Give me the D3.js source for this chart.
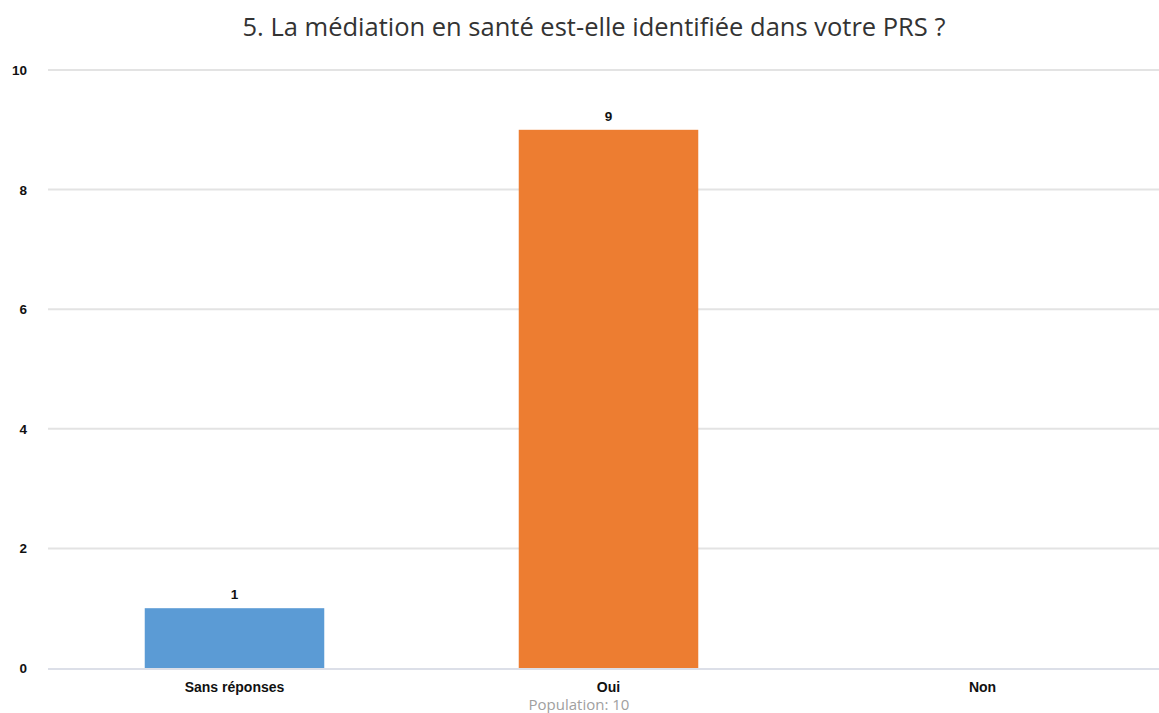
<!DOCTYPE html>
<html>
<head>
<meta charset="utf-8">
<script src="https://cdn.jsdelivr.net/npm/d3@7"></script>
<style>
  body { margin: 0; background: #fff; }
</style>
</head>
<body>
<script>
  const categories = ["Sans réponses", "Oui", "Non"];
  const values = [1, 9, 0];
  const colors = ["#5b9bd5", "#ed7d31", "#a5a5a5"];
  const yTicks = [0, 2, 4, 6, 8, 10];

  const w = 1159, h = 713;
  const plotLeft = 48, plotRight = 1159, plotTop = 70, plotBottom = 668;
  const labelFont = "'Liberation Sans', Arial, sans-serif";

  const svg = d3.select("body").append("svg")
    .attr("width", w).attr("height", h)
    .style("font-family", labelFont);

  const x = d3.scaleBand().domain(categories).range([47.5, 1169.5]).padding(0);
  const y = d3.scaleLinear().domain([0, 10]).range([plotBottom, plotTop]);
  const barW = x.bandwidth() * 0.48;

  const rows = categories.map((c, i) => ({ cat: c, val: values[i], color: colors[i] }));

  // gridlines
  svg.append("g").selectAll("line")
    .data(yTicks.filter(d => d > 0))
    .join("line")
    .attr("x1", plotLeft).attr("x2", plotRight)
    .attr("y1", d => y(d)).attr("y2", d => y(d))
    .attr("stroke", "#e3e3e3").attr("stroke-width", 2);

  // y tick labels
  svg.append("g").selectAll("text")
    .data(yTicks)
    .join("text")
    .attr("x", 27).attr("y", d => y(d) + 5)
    .attr("text-anchor", "end")
    .attr("font-size", 13.5).attr("font-weight", "bold").attr("fill", "#111")
    .text(d => d);

  // bars
  svg.append("g").selectAll("rect")
    .data(rows)
    .join("rect")
    .attr("x", d => x(d.cat) + (x.bandwidth() - barW) / 2)
    .attr("y", d => y(d.val))
    .attr("width", barW)
    .attr("height", d => plotBottom - y(d.val))
    .attr("fill", d => d.color);

  // value labels
  svg.append("g").selectAll("text")
    .data(rows.filter(d => d.val > 0))
    .join("text")
    .attr("x", d => x(d.cat) + x.bandwidth() / 2)
    .attr("y", d => y(d.val) - 9)
    .attr("text-anchor", "middle")
    .attr("font-size", 13.5).attr("font-weight", "bold").attr("fill", "#111")
    .text(d => d.val);

  // baseline
  svg.append("line")
    .attr("x1", plotLeft).attr("x2", plotRight)
    .attr("y1", plotBottom + 1).attr("y2", plotBottom + 1)
    .attr("stroke", "#dcdfe8").attr("stroke-width", 2);

  // x labels
  svg.append("g").selectAll("text")
    .data(categories)
    .join("text")
    .attr("x", d => x(d) + x.bandwidth() / 2)
    .attr("y", 692)
    .attr("text-anchor", "middle")
    .attr("font-size", 14).attr("font-weight", "bold").attr("fill", "#111")
    .text(d => d);

  svg.append("text")
    .attr("x", 579).attr("y", 710)
    .attr("text-anchor", "middle")
    .style("font-family", "'Open Sans', sans-serif")
    .attr("font-size", 15).attr("fill", "#a0a0a0")
    .text("Population: 10");

  // title
  svg.append("text")
    .attr("x", 594).attr("y", 36)
    .attr("text-anchor", "middle")
    .style("font-family", "'Open Sans', sans-serif")
    .attr("font-size", 25.5).attr("fill", "#333")
    .text("5. La médiation en santé est-elle identifiée dans votre PRS ?");
</script>
</body>
</html>
